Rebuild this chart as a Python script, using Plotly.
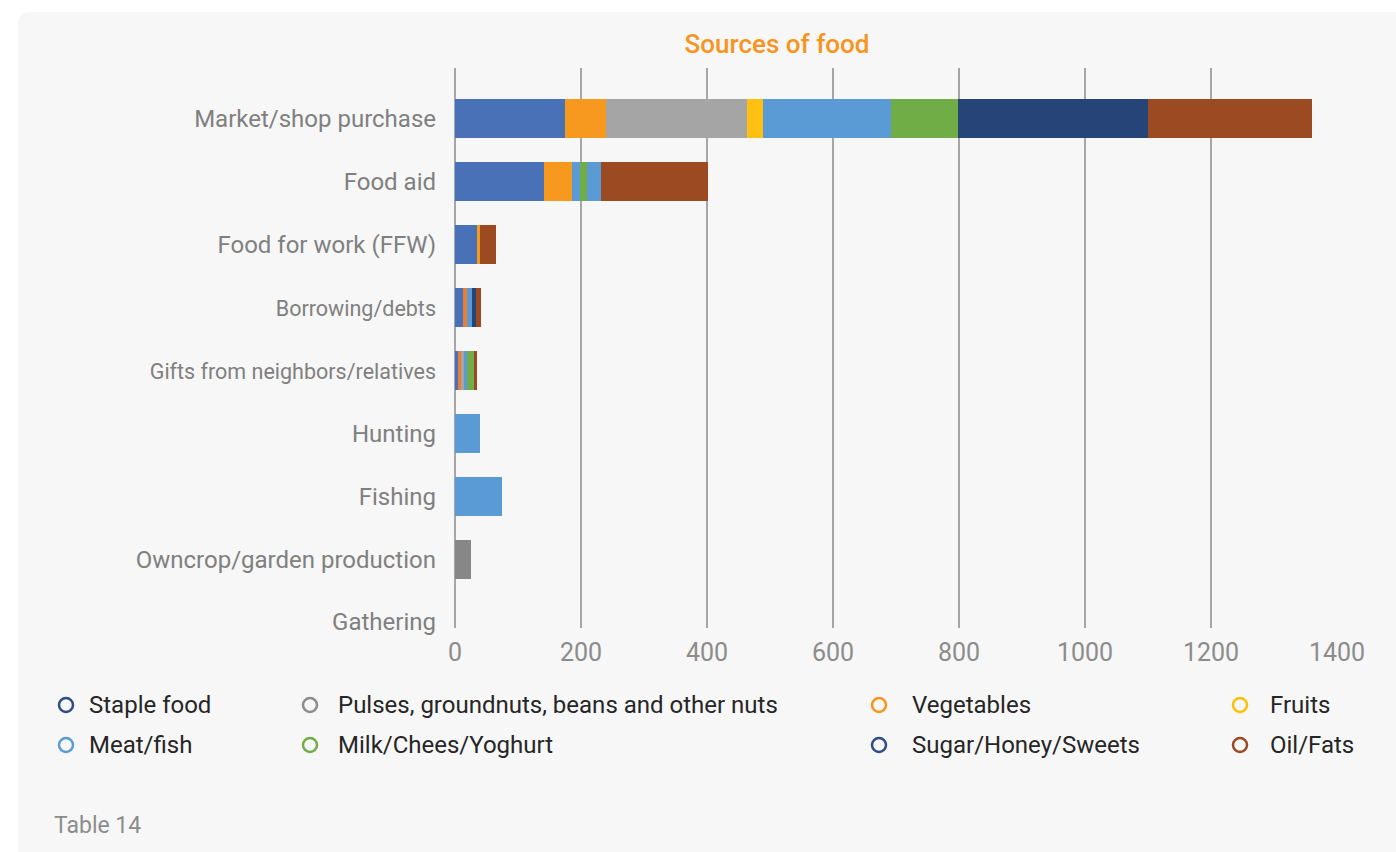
import plotly.graph_objects as go

# Food sources (top to bottom as drawn)
sources = [
    "Market/shop purchase",
    "Food aid",
    "Food for work (FFW)",
    "Borrowing/debts",
    "Gifts from neighbors/relatives",
    "Hunting",
    "Fishing",
    "Owncrop/garden production",
    "Gathering",
]

# Food groups, in stacking order (left to right inside a bar)
groups = [
    "Staple food",
    "Vegetables",
    "Pulses, groundnuts, beans and other nuts",
    "Fruits",
    "Meat/fish",
    "Milk/Chees/Yoghurt",
    "Sugar/Honey/Sweets",
    "Oil/Fats",
]

staple = [175, 141, 35, 13, 4.5, 0, 0, 0, 0]
vegetables = [64, 45, 5, 6.7, 5, 0, 0, 0, 0]
pulses = [225, 0, 0, 0, 5, 0, 0, 26, 0]
fruits = [25, 0, 0, 0, 0, 0, 0, 0, 0]
meat_fish = [203, 12, 0, 6.7, 5, 39, 75, 0, 0]
milk = [106, 11, 0, 0, 10, 0, 0, 0, 0]
sugar = [302, 22, 0, 6.7, 0, 0, 0, 0, 0]
oil_fats = [261, 170, 25, 8.4, 5, 0, 0, 0, 0]

values = [staple, vegetables, pulses, fruits, meat_fish, milk, sugar, oil_fats]

x_ticks = [0, 200, 400, 600, 800, 1000, 1200, 1400]

# Legend entry order (two rows of four)
legend_order = [
    "Staple food",
    "Pulses, groundnuts, beans and other nuts",
    "Vegetables",
    "Fruits",
    "Meat/fish",
    "Milk/Chees/Yoghurt",
    "Sugar/Honey/Sweets",
    "Oil/Fats",
]

# ---- styling ----
bar_colors = {
    "Staple food": "#4971b7",
    "Vegetables": "#f8991f",
    "Pulses, groundnuts, beans and other nuts": "#a5a5a5",
    "Fruits": "#ffc013",
    "Meat/fish": "#5b9bd5",
    "Milk/Chees/Yoghurt": "#70ad47",
    "Sugar/Honey/Sweets": "#264478",
    "Oil/Fats": "#9c4a22",
}
# individual bar segments that use a different fill
point_overrides = {
    ("Vegetables", "Borrowing/debts"): "#ed7d31",
    ("Vegetables", "Gifts from neighbors/relatives"): "#ed7d31",
    ("Sugar/Honey/Sweets", "Food aid"): "#5b9bd5",
    ("Pulses, groundnuts, beans and other nuts", "Owncrop/garden production"): "#878787",
}
legend_colors = {
    "Staple food": "#2f4d84",
    "Pulses, groundnuts, beans and other nuts": "#8c8c8c",
    "Vegetables": "#f7941d",
    "Fruits": "#ffc000",
    "Meat/fish": "#5b9bd5",
    "Milk/Chees/Yoghurt": "#70ad47",
    "Sugar/Honey/Sweets": "#2f4d84",
    "Oil/Fats": "#9c4a22",
}

W, H = 1396, 852
L, R, T, B = 455, 1337, 68, 628  # plot area in pixels


def px(x):
    return (x - L) / (R - L)


def py(y):
    return (B - y) / (B - T)


fig = go.Figure()
for name, vals in zip(groups, values):
    cols = [point_overrides.get((name, s), bar_colors[name]) for s in sources]
    fig.add_trace(
        go.Bar(
            y=sources,
            x=vals,
            name=name,
            orientation="h",
            marker=dict(color=cols, line=dict(width=0)),
            showlegend=False,
            hoverinfo="x+y+name",
        )
    )

small = {"Borrowing/debts", "Gifts from neighbors/relatives"}
tick_text = [
    f'<span style="font-size:21.5px">{s}</span>' if s in small else s for s in sources
]

fig.update_layout(
    width=W,
    height=H,
    autosize=False,
    barmode="stack",
    bargap=0.38,
    margin=dict(l=L, r=W - R, t=T, b=H - B, pad=0),
    paper_bgcolor="white",
    plot_bgcolor="rgba(0,0,0,0)",
    font=dict(family="Roboto, Arial, sans-serif", color="#808080"),
    title=dict(
        text="Sources of food",
        font=dict(family="Roboto", size=26, color="#f7941d", weight=500),
        x=777 / W,
        xanchor="center",
        xref="container",
        y=1 - 44 / H,
        yanchor="middle",
        yref="container",
    ),
    xaxis=dict(
        range=[0, 1400],
        tickvals=x_ticks,
        ticktext=[str(v) for v in x_ticks],
        showgrid=True,
        gridcolor="#a6a6a6",
        gridwidth=1.5,
        zeroline=True,
        zerolinecolor="#a6a6a6",
        zerolinewidth=1.5,
        showline=False,
        ticks="",
        tickfont=dict(size=25, color="#8c8c8c"),
        ticklabelstandoff=7,
        fixedrange=True,
    ),
    yaxis=dict(
        type="category",
        categoryorder="array",
        categoryarray=sources,
        range=[len(sources) - 1 + 0.095, -0.81],
        tickvals=sources,
        ticktext=tick_text,
        showgrid=False,
        zeroline=False,
        showline=False,
        ticks="",
        tickfont=dict(size=24, color="#808080"),
        ticklabelstandoff=18,
        fixedrange=True,
    ),
)

# Card background with a rounded top-left corner
r = 12
card = (
    f"M {px(18)},{py(880)} L {px(18)},{py(12 + r)} "
    f"Q {px(18)},{py(12)} {px(18 + r)},{py(12)} "
    f"L {px(1420)},{py(12)} L {px(1420)},{py(880)} Z"
)
fig.add_shape(
    type="path",
    path=card,
    xref="paper",
    yref="paper",
    fillcolor="#f7f7f7",
    line=dict(width=0),
    layer="below",
)

# Legend drawn as open circles with labels
col_circle_x = [66, 310, 879, 1240]
col_text_x = [87, 336, 910, 1268]
row_y = [705, 745]
for i, name in enumerate(legend_order):
    row, col = divmod(i, 4)
    cx, cy = col_circle_x[col], row_y[row]
    fig.add_shape(
        type="circle",
        xref="paper",
        yref="paper",
        xsizemode="pixel",
        ysizemode="pixel",
        xanchor=px(cx),
        yanchor=py(cy),
        x0=-7,
        x1=7,
        y0=-7,
        y1=7,
        line=dict(color=legend_colors[name], width=2.5),
        fillcolor="rgba(0,0,0,0)",
    )
    fig.add_annotation(
        text=name,
        xref="paper",
        yref="paper",
        x=px(col_text_x[col]),
        y=py(cy),
        xanchor="left",
        yanchor="middle",
        showarrow=False,
        font=dict(family="Roboto", size=24, color="#262626"),
    )

fig.add_annotation(
    text="Table 14",
    xref="paper",
    yref="paper",
    x=px(52),
    y=py(825),
    xanchor="left",
    yanchor="middle",
    showarrow=False,
    font=dict(family="Roboto", size=23, color="#8c8c8c"),
)

fig.write_html("out.html")
